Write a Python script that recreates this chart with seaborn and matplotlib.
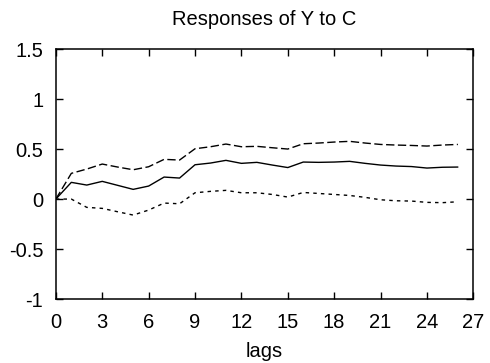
import matplotlib
matplotlib.use("Agg")
import matplotlib.pyplot as plt
import seaborn as sns
import numpy as np
import pandas as pd

lags = list(range(27))
response = [0.0, 0.167, 0.14, 0.177, 0.137, 0.097, 0.13, 0.22, 0.21, 0.343, 0.36, 0.387, 0.357, 0.367, 0.34,
            0.315, 0.37, 0.367, 0.37, 0.377, 0.357, 0.34, 0.33, 0.325, 0.31, 0.318, 0.32]
upper = [0.0, 0.257, 0.3, 0.35, 0.32, 0.293, 0.323, 0.397, 0.39, 0.503, 0.523, 0.55, 0.523, 0.527, 0.513,
         0.5, 0.553, 0.56, 0.57, 0.577, 0.56, 0.546, 0.54, 0.536, 0.53, 0.54, 0.546]
lower = [0.0, 0.0, -0.083, -0.093, -0.127, -0.16, -0.11, -0.04, -0.047, 0.063, 0.077, 0.087, 0.063, 0.063, 0.046,
         0.02, 0.066, 0.056, 0.046, 0.036, 0.017, -0.007, -0.017, -0.02, -0.033, -0.036, -0.027]
xticks = [0, 3, 6, 9, 12, 15, 18, 21, 24, 27]
yticks = [-1, -0.5, 0, 0.5, 1, 1.5]
ytick_labels = ["-1", "-0.5", "0", "0.5", "1", "1.5"]

sns.set_theme(style="ticks")
plt.rcParams['font.family'] = ['Liberation Sans', 'DejaVu Sans']

fig = plt.figure(figsize=(4.9, 3.63), dpi=100)
ax = fig.add_axes([0.114, 0.176, 0.852, 0.689])

sns.lineplot(x=lags, y=response, ax=ax, color="black", linewidth=1.0, linestyle="-")
sns.lineplot(x=lags, y=upper, ax=ax, color="black", linewidth=1.0, linestyle=(0, (6, 2.5)))
sns.lineplot(x=lags, y=lower, ax=ax, color="black", linewidth=1.0, linestyle=(0, (2.5, 3)))

ax.set_xlim(0, 27)
ax.set_ylim(-1, 1.5)
ax.set_xticks(xticks)
ax.set_xticklabels([str(t) for t in xticks])
ax.set_yticks(yticks)
ax.set_yticklabels(ytick_labels)
ax.tick_params(direction="in", length=5, width=1, top=True, right=True, labelsize=14.5, colors="black")
ax.tick_params(axis="x", pad=10)
ax.tick_params(axis="y", pad=9)
for s in ax.spines.values():
    s.set_visible(True)
    s.set_color("black")
    s.set_linewidth(1.1)
ax.set_xlabel("lags", fontsize=14.5, color="black", labelpad=7)
ax.set_title("Responses of Y to C", fontsize=14.5, color="black", pad=17)

fig.savefig("out.png", dpi=100)
